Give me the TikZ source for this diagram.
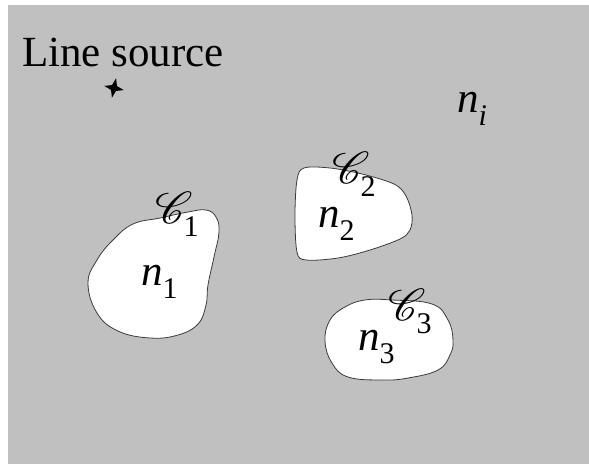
\documentclass[tikz,border=0pt]{standalone}
\usepackage{fontspec}
\setmainfont{Liberation Serif}
\usepackage{mathrsfs}
\definecolor{bggray}{HTML}{C0C0C0}
\definecolor{edgegray}{HTML}{3A3A3A}
\usetikzlibrary{positioning}

\newcommand{\lowidx}[1]{\raisebox{-13pt}{\fontsize{30}{30}\selectfont #1}}
\newcommand{\scrC}{\scalebox{1.8}{\fontsize{24.88}{28}\selectfont$\mathscr{C}$}\kern-9pt}

\tikzset{
  blob/.style={draw=edgegray, line width=0.8pt, fill=white},
  lbl/.style={inner sep=0pt, font=\fontsize{43}{48}\selectfont},
}

\begin{document}
\begin{tikzpicture}[x=1pt, y=-1pt]
  \useasboundingbox (0,0) rectangle (589,464);
  \fill[bggray] (8,5) rectangle (589,464);

  % regions
  \draw[blob] plot[smooth cycle, tension=0.7] coordinates {
    (88,283) (97,260) (113,240) (133,224) (160,218) (188,212) (206,210)
    (216,217) (219,232) (214,257) (208,285) (206,305) (198,324)
    (178,335) (150,338) (118,331) (97,313)};
  \draw[blob] plot[smooth cycle, tension=0.55] coordinates {
    (297,180) (304,168) (330,168) (362,174) (394,184) (406,196)
    (412,215) (410,230) (400,239) (370,250) (338,258) (306,260)
    (297,252) (295,215)};
  \draw[blob] plot[smooth cycle, tension=0.7] coordinates {
    (325,341) (330,320) (345,307) (365,300) (392,300) (432,304)
    (448,320) (453,340) (450,355) (438,370) (408,378) (382,380)
    (348,377) (332,363)};

  % line source
  \node[lbl, anchor=base west] (src) at (22,66) {Line source};
  \fill[rotate around={-12:(114,88)}] (114,78) -- (116.5,85.5) -- (124,88) -- (116.5,90.5)
    -- (114,98) -- (111.5,90.5) -- (104,88) -- (111.5,85.5) -- cycle;

  % labels
  \node[lbl, anchor=base west] (ni) at (457,112) {\textit{n}\lowidx{\textit{i}}};
  \node[lbl, anchor=base west] (n1) at (141,285) {\textit{n}\lowidx{1}};
  \node[lbl, anchor=base west] (n2) at (318,227) {\textit{n}\lowidx{2}};
  \node[lbl, anchor=base west] (n3) at (358,350) {\textit{n}\lowidx{3}};
  \node[lbl, anchor=base west] (c1) at (155,223) {\scrC\lowidx{1}};
  \node[lbl, anchor=base west] (c2) at (332,183) {\scrC\lowidx{2}};
  \node[lbl, anchor=base west] (c3) at (388,320) {\scrC\lowidx{3}};
\end{tikzpicture}
\end{document}
